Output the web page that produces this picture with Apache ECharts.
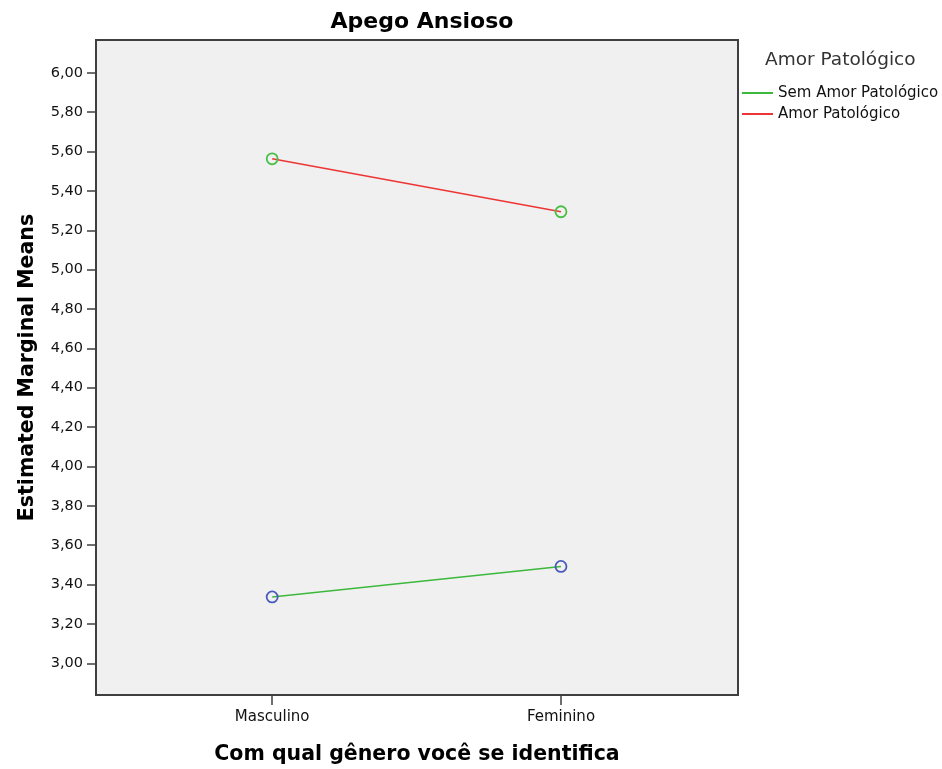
<!DOCTYPE html>
<html>
<head>
<meta charset="utf-8">
<script src="https://cdn.jsdelivr.net/npm/echarts@6/dist/echarts.min.js"></script>
<style>
  html, body { margin: 0; padding: 0; background: #ffffff; }
  #chart { width: 942px; height: 769px; }
</style>
</head>
<body>
<div id="chart"></div>
<script>
// Gender categories on the horizontal axis
const categories = ['Masculino', 'Feminino'];

// Estimated marginal means per group
const semAmorPatologico = [3.337, 3.492];
const amorPatologico = [5.563, 5.294];

// Tick values on the vertical axis
const yTicks = [3.0, 3.2, 3.4, 3.6, 3.8, 4.0, 4.2, 4.4, 4.6, 4.8, 5.0, 5.2, 5.4, 5.6, 5.8, 6.0];

const seriesNames = ['Sem Amor Patológico', 'Amor Patológico'];
const lineColors = ['#3cb83c', '#ee3535'];
const markerColors = ['#4a5bbd', '#45bf45'];

const toPoints = vals => vals.map((v, i) => [i, v]);
const fmtComma = v => v.toFixed(2).replace('.', ',');

const FONT = 'DejaVu Sans';
const FRAME = '#3f3f3f';

const chart = echarts.init(document.getElementById('chart'), null, { renderer: 'canvas' });

const option = {
  backgroundColor: '#ffffff',
  animation: false,
  title: [
    {
      text: 'Apego Ansioso',
      left: 417,
      top: 6,
      textAlign: 'center',
      textStyle: { fontFamily: FONT, fontSize: 22, fontWeight: 'bold', color: '#000' }
    },
    {
      text: 'Amor Patológico',
      left: 765,
      top: 51,
      padding: 0,
      textStyle: { fontFamily: FONT, fontSize: 18.5, fontWeight: 'normal', color: '#333' }
    }
  ],
  legend: {
    orient: 'vertical',
    left: 742,
    top: 85,
    padding: 0,
    itemWidth: 31,
    itemHeight: 2,
    itemGap: 5,
    icon: 'rect',
    textStyle: { fontFamily: FONT, fontSize: 15, color: '#111', lineHeight: 16 },
    data: seriesNames.map((n, i) => ({ name: n, itemStyle: { color: lineColors[i], borderWidth: 0 } }))
  },
  grid: {
    left: 96,
    top: 40,
    width: 642,
    height: 655,
    outerBoundsMode: 'none',
    containLabel: false,
    show: true,
    backgroundColor: '#f0f0f0',
    borderColor: FRAME,
    borderWidth: 2
  },
  xAxis: {
    type: 'value',
    min: -0.61,
    max: 1.613,
    name: 'Com qual gênero você se identifica',
    nameLocation: 'middle',
    nameGap: 49,
    nameTextStyle: { fontFamily: FONT, fontSize: 20.5, fontWeight: 'bold', color: '#000' },
    axisLine: { show: true, onZero: false, lineStyle: { color: FRAME, width: 2 } },
    axisTick: { show: true, length: 10, customValues: [0, 1], lineStyle: { color: FRAME, width: 1.5 } },
    axisLabel: {
      customValues: [0, 1],
      margin: 15,
      fontFamily: FONT,
      fontSize: 15,
      color: '#111',
      formatter: v => categories[Math.round(v)]
    },
    splitLine: { show: false }
  },
  yAxis: {
    type: 'value',
    min: 2.839,
    max: 6.1665,
    name: 'Estimated Marginal Means',
    nameLocation: 'middle',
    nameGap: 58,
    nameTextStyle: { fontFamily: FONT, fontSize: 20.5, fontWeight: 'bold', color: '#000' },
    axisLine: { show: true, onZero: false, lineStyle: { color: FRAME, width: 2 } },
    axisTick: { show: true, length: 9, customValues: yTicks, lineStyle: { color: FRAME, width: 1.5 } },
    axisLabel: {
      customValues: yTicks,
      margin: 13,
      fontFamily: FONT,
      fontSize: 14.5,
      color: '#111',
      formatter: v => fmtComma(v)
    },
    splitLine: { show: false }
  },
  series: [semAmorPatologico, amorPatologico].map((vals, i) => ({
    name: seriesNames[i],
    type: 'line',
    data: toPoints(vals),
    symbol: 'circle',
    symbolSize: 11,
    lineStyle: { color: lineColors[i], width: 1.5 },
    itemStyle: { color: 'rgba(0,0,0,0)', borderColor: markerColors[i], borderWidth: 1.8 },
    emphasis: { disabled: true }
  }))
};

chart.setOption(option);
</script>
</body>
</html>
